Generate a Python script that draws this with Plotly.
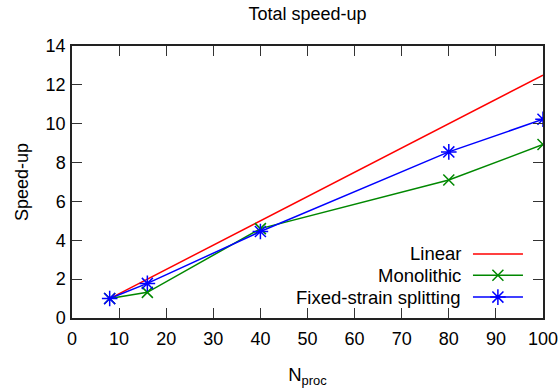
import plotly.graph_objects as go

nproc = [8, 16, 40, 80, 100]
linear = [1, 2, 5, 10, 12.5]
monolithic = [1, 1.32, 4.6, 7.1, 8.93]
fixed_strain = [1, 1.78, 4.45, 8.55, 10.23]
legend_names = ["Linear", "Monolithic", "Fixed-strain splitting"]
colors = ["#ff0000", "#008800", "#0000ff"]

FONT = "Liberation Sans, Arial, sans-serif"
FS = 18
fig = go.Figure()
fig.add_trace(go.Scatter(x=nproc, y=linear, mode="lines", line=dict(color=colors[0], width=1.5), showlegend=False))
fig.add_trace(go.Scatter(x=nproc, y=monolithic, mode="lines+markers", line=dict(color=colors[1], width=1.5),
                         marker=dict(symbol="x-thin-open", size=11, color=colors[1], line=dict(color=colors[1], width=1.5)), showlegend=False))
fig.add_trace(go.Scatter(x=nproc, y=fixed_strain, mode="lines+markers", line=dict(color=colors[2], width=1.5),
                         marker=dict(symbol="asterisk-open", size=13, color=colors[2], line=dict(color=colors[2], width=1.5)), showlegend=False))

# manual gnuplot-style legend (text left, sample right)
X2_DOM = [0.851, 0.9575]
Y2_DOM = [0.04, 0.27]
leg_y = [0.85, 0.51, 0.16]
symbols = [None, "x-thin-open", "asterisk-open"]
sizes = [0, 11, 13]
for i, name in enumerate(legend_names):
    fig.add_trace(go.Scatter(x=[0, 1], y=[leg_y[i], leg_y[i]], mode="lines", xaxis="x2", yaxis="y2",
                             line=dict(color=colors[i], width=1.5), showlegend=False, hoverinfo="skip"))
    if symbols[i]:
        fig.add_trace(go.Scatter(x=[0.5], y=[leg_y[i]], mode="markers", xaxis="x2", yaxis="y2",
                                 marker=dict(symbol=symbols[i], size=sizes[i], color=colors[i],
                                             line=dict(color=colors[i], width=1.5)),
                                 showlegend=False, hoverinfo="skip"))
    fig.add_annotation(x=X2_DOM[0] - 0.2 * (X2_DOM[1] - X2_DOM[0]),
                       y=Y2_DOM[0] + leg_y[i] * (Y2_DOM[1] - Y2_DOM[0]),
                       xref="paper", yref="paper", text=name, showarrow=False,
                       xanchor="right", yanchor="middle", font=dict(family=FONT, size=18.5, color="black"))

axis_common = dict(showgrid=False, zeroline=False, showline=True, linecolor="#222222", linewidth=1.5,
                   mirror="ticks", ticks="inside", ticklen=10, tickwidth=1.2, tickcolor="#333333",
                   automargin=False, tickfont=dict(family=FONT, size=FS, color="black"))
hidden = dict(showgrid=False, zeroline=False, showline=False, showticklabels=False, ticks="", fixedrange=True)
fig.update_layout(
    width=559, height=389,
    margin=dict(l=72, r=16, t=46, b=71),
    plot_bgcolor="white", paper_bgcolor="white",
    title=dict(text="Total speed-up", x=0.55, xanchor="center", y=0.965, yanchor="middle",
               font=dict(family=FONT, size=FS, color="black")),
    xaxis=dict(range=[0, 100], dtick=10, ticklabelstandoff=4,
               title=dict(text="N<sub>proc</sub>", font=dict(family=FONT, size=18.5, color="black"), standoff=20), **axis_common),
    yaxis=dict(range=[0, 14], dtick=2, ticklabelstandoff=1,
               title=dict(text="Speed-up", font=dict(family=FONT, size=FS, color="black"), standoff=12), **axis_common),
    xaxis2=dict(domain=X2_DOM, range=[0, 1], anchor="y2", **hidden),
    yaxis2=dict(domain=Y2_DOM, range=[0, 1], anchor="x2", **hidden),
)
fig.write_html("out.html", config={"displayModeBar": False, "responsive": False},
               post_script="document.body.style.margin='0px';document.body.style.overflow='hidden';")
